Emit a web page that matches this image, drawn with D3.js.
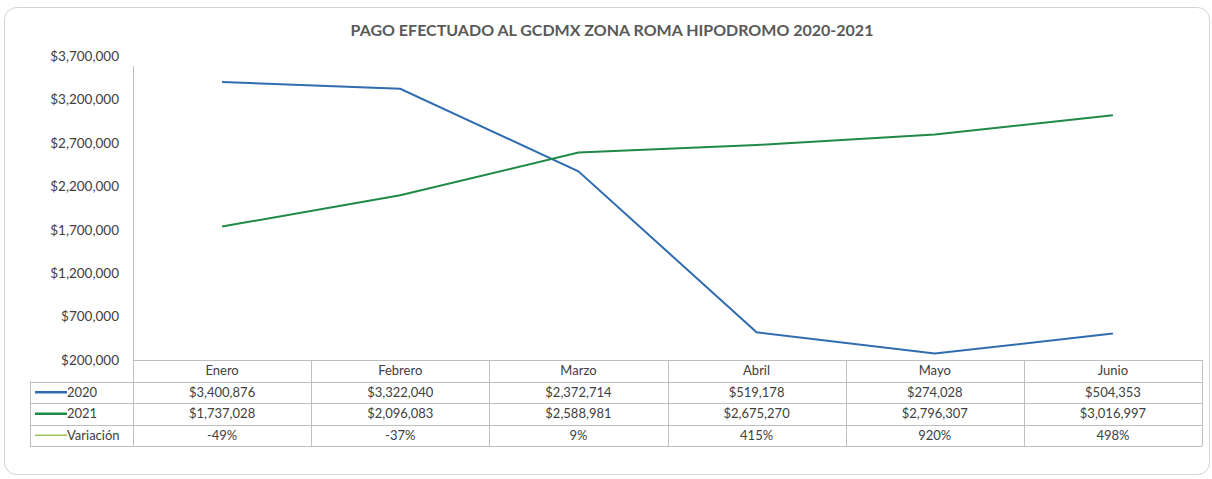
<!DOCTYPE html>
<html>
<head>
<meta charset="utf-8">
<script src="https://cdn.jsdelivr.net/npm/d3@7"></script>
<style>
  html, body { margin: 0; padding: 0; background: #fff; }
  svg text { font-family: Lato, "Open Sans", sans-serif; fill: #404040; }
</style>
</head>
<body>
<div id="chart"></div>
<script>
// data
const months = ['Enero', 'Febrero', 'Marzo', 'Abril', 'Mayo', 'Junio'];
const pago2020 = [3400876, 3322040, 2372714, 519178, 274028, 504353];
const pago2021 = [1737028, 2096083, 2588981, 2675270, 2796307, 3016997];
const variacion = ['-49%', '-37%', '9%', '415%', '920%', '498%'];
const yTicks = [200000, 700000, 1200000, 1700000, 2200000, 2700000, 3200000, 3700000];

const W = 1212, H = 479;
const plot = { left: 133, right: 1202, top: 56, bottom: 360 };
const ROW_H = 21.5;
const LEGEND_X = 30;

const svg = d3.select('#chart').append('svg')
  .attr('width', W).attr('height', H);

// outer frame
svg.append('rect')
  .attr('x', 4.5).attr('y', 7.5).attr('width', 1205).attr('height', 467)
  .attr('rx', 12).attr('fill', '#fff').attr('stroke', '#d4d4d4');

svg.append('text')
  .attr('x', 612).attr('y', 36).attr('text-anchor', 'middle')
  .style('font-weight', 'bold').style('font-size', '16px').style('fill', '#595959')
  .text('PAGO EFECTUADO AL GCDMX ZONA ROMA HIPODROMO 2020-2021');

const x = d3.scaleBand().domain(months).range([plot.left, plot.right]);
const y = d3.scaleLinear().domain([200000, 3700000]).range([plot.bottom, plot.top]);

// y axis
const yAxis = svg.append('g')
  .attr('transform', `translate(${plot.left},0)`)
  .call(d3.axisLeft(y).tickValues(yTicks).tickSize(0).tickPadding(14)
    .tickFormat(d => '$' + d3.format(',')(d)));
yAxis.select('.domain').remove();
yAxis.selectAll('text').style('font-size', '13.5px').style('fill', '#404040');
svg.append('line')
  .attr('x1', plot.left + 0.5).attr('x2', plot.left + 0.5)
  .attr('y1', 66).attr('y2', plot.bottom)
  .attr('stroke', '#bfbfbf');

// lines
const series = [
  { name: '2020', values: pago2020, color: '#2f6db0' },
  { name: '2021', values: pago2021, color: '#1f8a45' }
];
const line = d3.line()
  .x((d, i) => x(months[i]) + x.bandwidth() / 2)
  .y(d => y(d));
series.forEach(s => {
  svg.append('path')
    .datum(s.values)
    .attr('d', line)
    .attr('fill', 'none')
    .attr('stroke', s.color)
    .attr('stroke-width', 2);
});

// data table
const grid = '#bfbfbf';
const table = svg.append('g');
const rows = [
  { label: '2020', color: '#2f6db0', cells: pago2020.map(v => '$' + d3.format(',')(v)) },
  { label: '2021', color: '#1f8a45', cells: pago2021.map(v => '$' + d3.format(',')(v)) },
  { label: 'Variación', color: '#9cc65c', cells: variacion }
];
const tableBottom = plot.bottom + ROW_H * 4;

// horizontal rules
table.append('line')
  .attr('x1', plot.left).attr('x2', plot.right)
  .attr('y1', plot.bottom + 0.5).attr('y2', plot.bottom + 0.5).attr('stroke', grid);
d3.range(1, 5).forEach(i => {
  const yy = Math.round(plot.bottom + ROW_H * i) + 0.5;
  table.append('line')
    .attr('x1', LEGEND_X).attr('x2', plot.right)
    .attr('y1', yy).attr('y2', yy).attr('stroke', grid);
});
// vertical rules
months.forEach(m => {
  const xx = Math.round(x(m)) + 0.5;
  table.append('line')
    .attr('x1', xx).attr('x2', xx)
    .attr('y1', plot.bottom).attr('y2', tableBottom).attr('stroke', grid);
});
table.append('line')
  .attr('x1', plot.right + 0.5).attr('x2', plot.right + 0.5)
  .attr('y1', plot.bottom).attr('y2', tableBottom).attr('stroke', grid);
table.append('line')
  .attr('x1', LEGEND_X + 0.5).attr('x2', LEGEND_X + 0.5)
  .attr('y1', plot.bottom + ROW_H).attr('y2', tableBottom).attr('stroke', grid);

// header
table.selectAll('.hdr')
  .data(months)
  .join('text')
    .attr('class', 'hdr')
    .attr('x', d => x(d) + x.bandwidth() / 2)
    .attr('y', plot.bottom + ROW_H / 2)
    .attr('dy', '0.35em')
    .attr('text-anchor', 'middle')
    .style('font-size', '13px')
    .text(d => d);

rows.forEach((r, ri) => {
  const cy = plot.bottom + ROW_H * (ri + 1.5);
  table.append('line')
    .attr('x1', LEGEND_X + 5).attr('x2', LEGEND_X + 37)
    .attr('y1', cy).attr('y2', cy)
    .attr('stroke', r.color).attr('stroke-width', ri === 2 ? 1.5 : 2.5);
  table.append('text')
    .attr('x', LEGEND_X + 37).attr('y', cy).attr('dy', '0.35em')
    .style('font-size', '13px')
    .text(r.label);
  table.selectAll(null)
    .data(r.cells)
    .join('text')
      .attr('x', (d, i) => x(months[i]) + x.bandwidth() / 2)
      .attr('y', cy).attr('dy', '0.35em')
      .attr('text-anchor', 'middle')
      .style('font-size', '13px')
      .text(d => d);
});
</script>
</body>
</html>
